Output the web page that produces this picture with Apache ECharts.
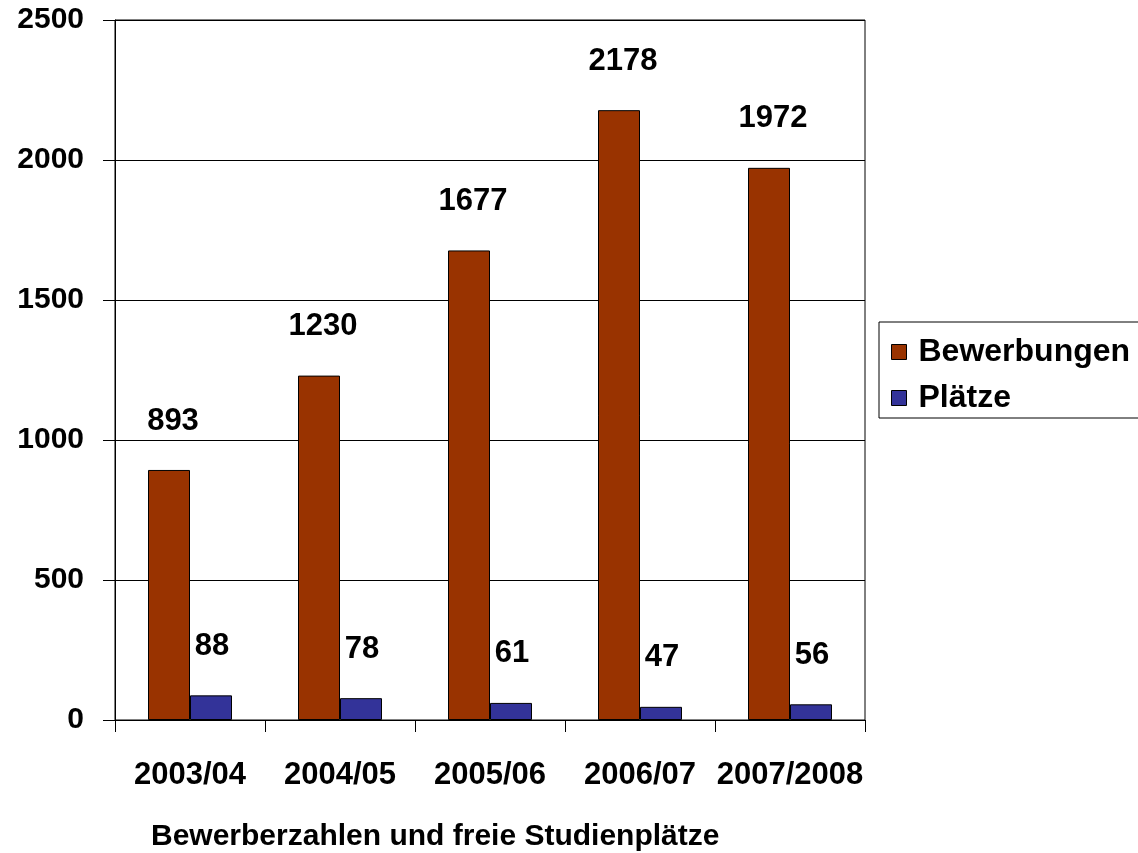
<!DOCTYPE html>
<html>
<head>
<meta charset="utf-8">
<script src="https://cdn.jsdelivr.net/npm/echarts@6/dist/echarts.min.js"></script>
<style>
  html, body { margin: 0; padding: 0; background: #fff; }
  #chart { width: 1138px; height: 853px; }
</style>
</head>
<body>
<div id="chart"></div>
<script>
// Semester categories
var semesters = ['2003/04', '2004/05', '2005/06', '2006/07', '2007/2008'];
// Applications per semester
var bewerbungen = [893, 1230, 1677, 2178, 1972];
// Available places per semester
var plaetze = [88, 78, 61, 47, 56];
// Value axis ticks
var yTicks = [0, 500, 1000, 1500, 2000, 2500];

var FONT = 'Liberation Sans, Arial, sans-serif';

var chart = echarts.init(document.getElementById('chart'), null, { renderer: 'canvas' });

var valueLabel = {
  show: true,
  position: 'top',
  distance: 34,
  fontFamily: FONT,
  fontWeight: 'bold',
  fontSize: 31,
  lineHeight: 30,
  color: '#000'
};

chart.setOption({
  animation: false,
  backgroundColor: '#fff',
  title: {
    text: 'Bewerberzahlen und freie Studienplätze',
    left: 151,
    top: 822,
    padding: 0,
    textStyle: { fontFamily: FONT, fontWeight: 'bold', fontSize: 30, color: '#000' }
  },
  legend: {
    orient: 'vertical',
    left: 879,
    top: 322,
    padding: [14, 120, 4, 12],
    itemGap: 14,
    itemWidth: 15,
    itemHeight: 15,
    borderColor: '#000',
    borderWidth: 1,
    icon: 'rect',
    itemStyle: { borderColor: '#000', borderWidth: 1 },
    textStyle: { fontFamily: FONT, fontWeight: 'bold', fontSize: 32, lineHeight: 30, color: '#000', padding: [0, 0, 0, 7] },
    data: ['Bewerbungen', 'Plätze']
  },
  grid: {
    left: 115, right: 273, top: 20, bottom: 133,
    show: true, borderColor: '#000', borderWidth: 1
  },
  xAxis: {
    type: 'category',
    data: semesters,
    axisLine: { lineStyle: { color: '#000', width: 1 } },
    axisTick: { show: true, alignWithLabel: false, length: 12, lineStyle: { color: '#000' } },
    axisLabel: { margin: 40, fontFamily: FONT, fontWeight: 'bold', fontSize: 31, color: '#000', interval: 0 }
  },
  yAxis: {
    type: 'value',
    min: yTicks[0],
    max: yTicks[yTicks.length - 1],
    interval: 500,
    axisLine: { show: true, lineStyle: { color: '#000', width: 1 } },
    axisTick: { show: true, length: 12, lineStyle: { color: '#000' } },
    axisLabel: {
      margin: 31, fontFamily: FONT, fontWeight: 'bold', fontSize: 30, color: '#000',
      formatter: function (v) { return String(v); }
    },
    splitLine: { show: true, lineStyle: { color: '#000', width: 1 } }
  },
  series: [
    {
      name: 'Bewerbungen',
      type: 'bar',
      data: bewerbungen,
      barWidth: 42,
      barGap: '0%',
      itemStyle: { color: '#993300', borderColor: '#000', borderWidth: 1 },
      label: Object.assign({}, valueLabel, { offset: [4, 0] })
    },
    {
      name: 'Plätze',
      type: 'bar',
      data: plaetze,
      barWidth: 42,
      barGap: '0%',
      itemStyle: { color: '#333399', borderColor: '#000', borderWidth: 1 },
      label: Object.assign({}, valueLabel, { offset: [1, 0] })
    }
  ]
});
</script>
</body>
</html>
